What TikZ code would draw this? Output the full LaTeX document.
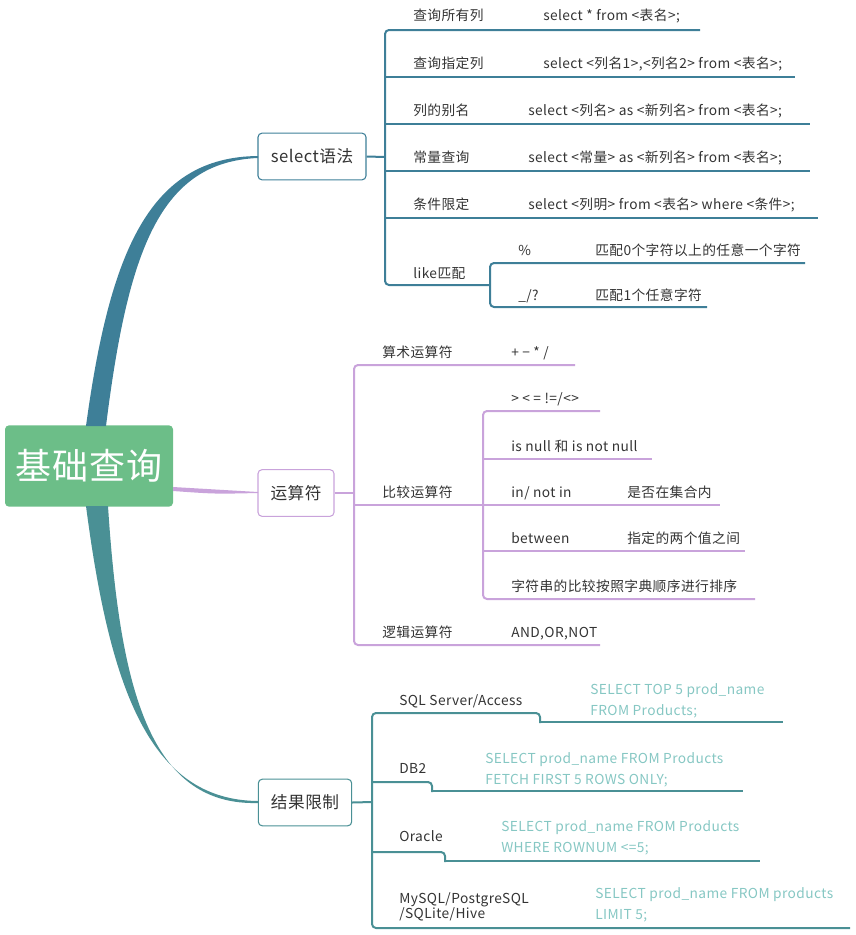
\documentclass[tikz,border=0pt]{standalone}
\usepackage{fontspec}
\setmainfont{Noto Sans CJK SC}[LetterSpace=3]
\definecolor{cS}{HTML}{3E7F98}
\definecolor{cO}{HTML}{C9A3DB}
\definecolor{cR}{HTML}{4A9095}
\definecolor{cV}{HTML}{86C7C3}
\definecolor{cG}{HTML}{6CBE88}
\definecolor{tx}{HTML}{333333}
\begin{document}
\begin{tikzpicture}[x=0.75pt,y=-0.75pt,
 lab/.style={anchor=base west,inner sep=0pt,font=\fontsize{10.3}{12}\selectfont,text=tx},
 val/.style={anchor=base west,inner sep=0pt,font=\fontsize{10.3}{15.5}\selectfont,text=cV,align=left},
 sbox/.style={draw=#1,rounded corners=3pt,inner sep=0pt,font=\fontsize{12.5}{14}\selectfont,text=tx,line width=0.8pt},
 br/.style={draw=#1,line width=1.5pt,rounded corners=3pt}]
\useasboundingbox (0,0) rectangle (856,935);
% root
\node[fill=cG,rounded corners=3pt,minimum width=126pt,minimum height=61pt,text=white,font=\fontsize{27}{30}\selectfont] (root) at (89,466) {基础查询};
% main connectors
\fill[cS] (86,426) .. controls (110,250) and (150,157) .. (258,156) -- (258,158) .. controls (160,162) and (128,250) .. (106,426) -- cycle;
\fill[cR] (86,506) .. controls (110,690) and (150,800) .. (258,801) -- (258,803) .. controls (150,806) and (120,690) .. (108,506) -- cycle;
\fill[cO] (173,487) .. controls (215,490) .. (258,492) -- (258,493) .. controls (215,494) .. (173,491) -- cycle;
% boxes
\node[sbox=cS,minimum width=81pt,minimum height=35pt] (sel) at (312,156.5) {select语法};
\node[sbox=cO,minimum width=57pt,minimum height=35pt] (op) at (296,493) {运算符};
\node[sbox=cR,minimum width=70pt,minimum height=35pt] (res) at (305,802.5) {结果限制};
% select branch
\coordinate (s0) at (385,157);
\draw[br=cS] (sel.east) -- (s0);
\draw[br=cS] (700,30) -- (385,30) -- (385,285) -- (490,285);
\foreach \y/\e in {77/795,124/810,171/810,218/818}{\draw[br=cS] (385,\y) -- (\e,\y);}
\node[lab] (s1) at (413,21) {查询所有列};
\node[lab] (v1) at (543,21) {select * from <表名>;};
\node[lab] (s2) at (413,68) {查询指定列};
\node[lab] (v2) at (543,68) {select <列名1>,<列名2> from <表名>;};
\node[lab] (s3) at (413,115) {列的别名};
\node[lab] (v3) at (528,115) {select <列名> as <新列名> from <表名>;};
\node[lab] (s4) at (413,162) {常量查询};
\node[lab] (v4) at (528,162) {select <常量> as <新列名> from <表名>;};
\node[lab] (s5) at (413,209) {条件限定};
\node[lab] (v5) at (528,209) {select <列明> from <表名> where <条件>;};
\node[lab] (s6) at (413,278) {like匹配};
\draw[br=cS] (805,263) -- (490,263) -- (490,307) -- (707,307);
\node[lab] (l1) at (518,255) {\%};
\node[lab] (lv1) at (595,255) {匹配0个字符以上的任意一个字符};
\node[lab] (l2) at (518,300) {\_/?};
\node[lab] (lv2) at (595,300) {匹配1个任意字符};
% operator branch
\draw[br=cO] (op.east) -- (354,493);
\draw[br=cO] (575,365) -- (354,365) -- (354,645) -- (600,645);
\draw[br=cO] (354,505) -- (483,505);
\draw[br=cO] (600,411) -- (483,411) -- (483,599) -- (755,599);
\foreach \y/\e in {459/652,505/720,551/745}{\draw[br=cO] (483,\y) -- (\e,\y);}
\node[lab] (o1) at (382,357) {算术运算符};
\node[lab] (ov1) at (511,357) {+ − * /};
\node[lab] (o2) at (382,497) {比较运算符};
\node[lab] (c1) at (511,403) {> < = !=/<>};
\node[lab] (c2) at (511,451) {is null 和 is not null};
\node[lab] (c3) at (511,497) {in/ not in};
\node[lab] (c3v) at (627,497) {是否在集合内};
\node[lab] (c4) at (511,543) {between};
\node[lab] (c4v) at (627,543) {指定的两个值之间};
\node[lab] (c5) at (511,591) {字符串的比较按照字典顺序进行排序};
\node[lab] (o3) at (382,637) {逻辑运算符};
\node[lab] (ov3) at (511,637) {AND,OR,NOT};
% result branch
\draw[br=cR] (res.east) -- (372,802);
\draw[br=cR] (540,723) -- (540,713) -- (372,713) -- (372,928) -- (850,928);
\draw[br=cR] (540,722) -- (783,722);
\draw[br=cR] (432,792) -- (432,782) -- (372,782);
\draw[br=cR] (432,791) -- (743,791);
\draw[br=cR] (445,862) -- (445,852) -- (372,852);
\draw[br=cR] (445,861) -- (760,861);
\node[lab] (r1) at (399,705) {SQL Server/Access};
\node[val] (rv1) at (590,715) {SELECT TOP 5 prod\_name\\FROM Products;};
\node[lab] (r2) at (399,773) {DB2};
\node[val] (rv2) at (485,784) {SELECT prod\_name FROM Products\\FETCH FIRST 5 ROWS ONLY;};
\node[lab] (r3) at (399,841) {Oracle};
\node[val] (rv3) at (501,852) {SELECT prod\_name FROM Products\\WHERE ROWNUM <=5;};
\node[lab,align=left] (r4) at (399,918) {MySQL/PostgreSQL\\[-1pt]/SQLite/Hive};
\node[val] (rv4) at (595,919) {SELECT prod\_name FROM products\\LIMIT 5;};
\end{tikzpicture}
\end{document}
